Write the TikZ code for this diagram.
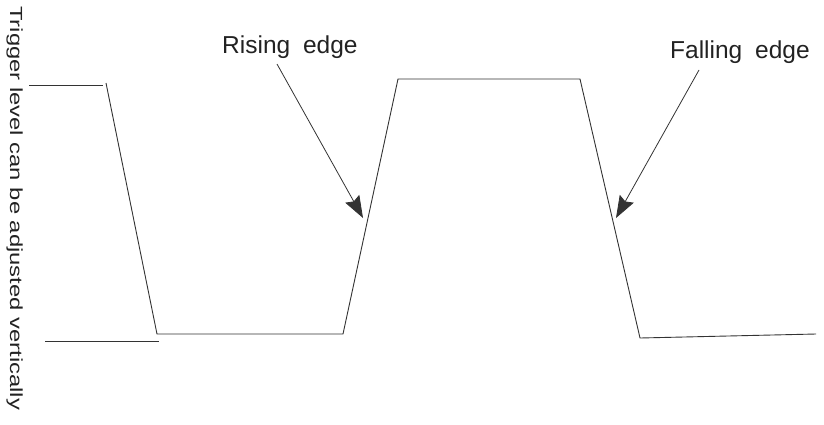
\documentclass[tikz,border=0pt]{standalone}
\usepackage{fontspec}
\setmainfont{Liberation Sans}
\usetikzlibrary{arrows.meta}
\definecolor{ink}{HTML}{222222}
\definecolor{wire}{HTML}{333333}
\tikzset{
  wave/.style={draw=wire, line width=0.9pt, line join=miter},
  level/.style={draw=wire, line width=0.9pt},
  label/.style={text=ink, inner sep=0pt, font=\fontsize{24.5}{27}\selectfont},
  pointer/.style={draw=wire, line width=0.8pt, -{Stealth[length=22pt,width=16pt,inset=3pt]}},
  sidetext/.style={text=ink, inner sep=0pt, rotate=-90, anchor=base west, font=\fontsize{17.5}{20}\selectfont}
}
\begin{document}
\begin{tikzpicture}[x=1pt,y=-1pt]
\useasboundingbox (0,0) rectangle (824,424);
% side text
\node[sidetext] (side) at (10,6) {\scalebox{1.36}[1]{Trigger level can be adjusted vertically}};
% trigger level marks
\coordinate (t1) at (29,85); \coordinate (t2) at (103,85);
\coordinate (b1) at (45,341); \coordinate (b2) at (159,341);
\draw[level] (t1) -- (t2);
\draw[level] (b1) -- (b2);
% waveform
\coordinate (w0) at (106,83);
\coordinate (w1) at (157,334);
\coordinate (w2) at (343,334);
\coordinate (w3) at (398,79);
\coordinate (w4) at (580,79);
\coordinate (w5) at (640,338);
\coordinate (w6) at (816,334);
\draw[wave] (w0) -- (w1) -- (w2) -- (w3) -- (w4) -- (w5) -- (w6);
% labels
\node[label, anchor=base west] (rise) at (222,53.3) {Rising\hspace{6pt} edge};
\node[label, anchor=base west] (fall) at (670,58.3) {Falling\hspace{6pt} edge};
\coordinate (rs) at (277,64); \coordinate (rt) at (363,218);
\coordinate (fs) at (699,70); \coordinate (ft) at (616,218);
\draw[pointer] (rs) -- (rt);
\draw[pointer] (fs) -- (ft);
\end{tikzpicture}
\end{document}
